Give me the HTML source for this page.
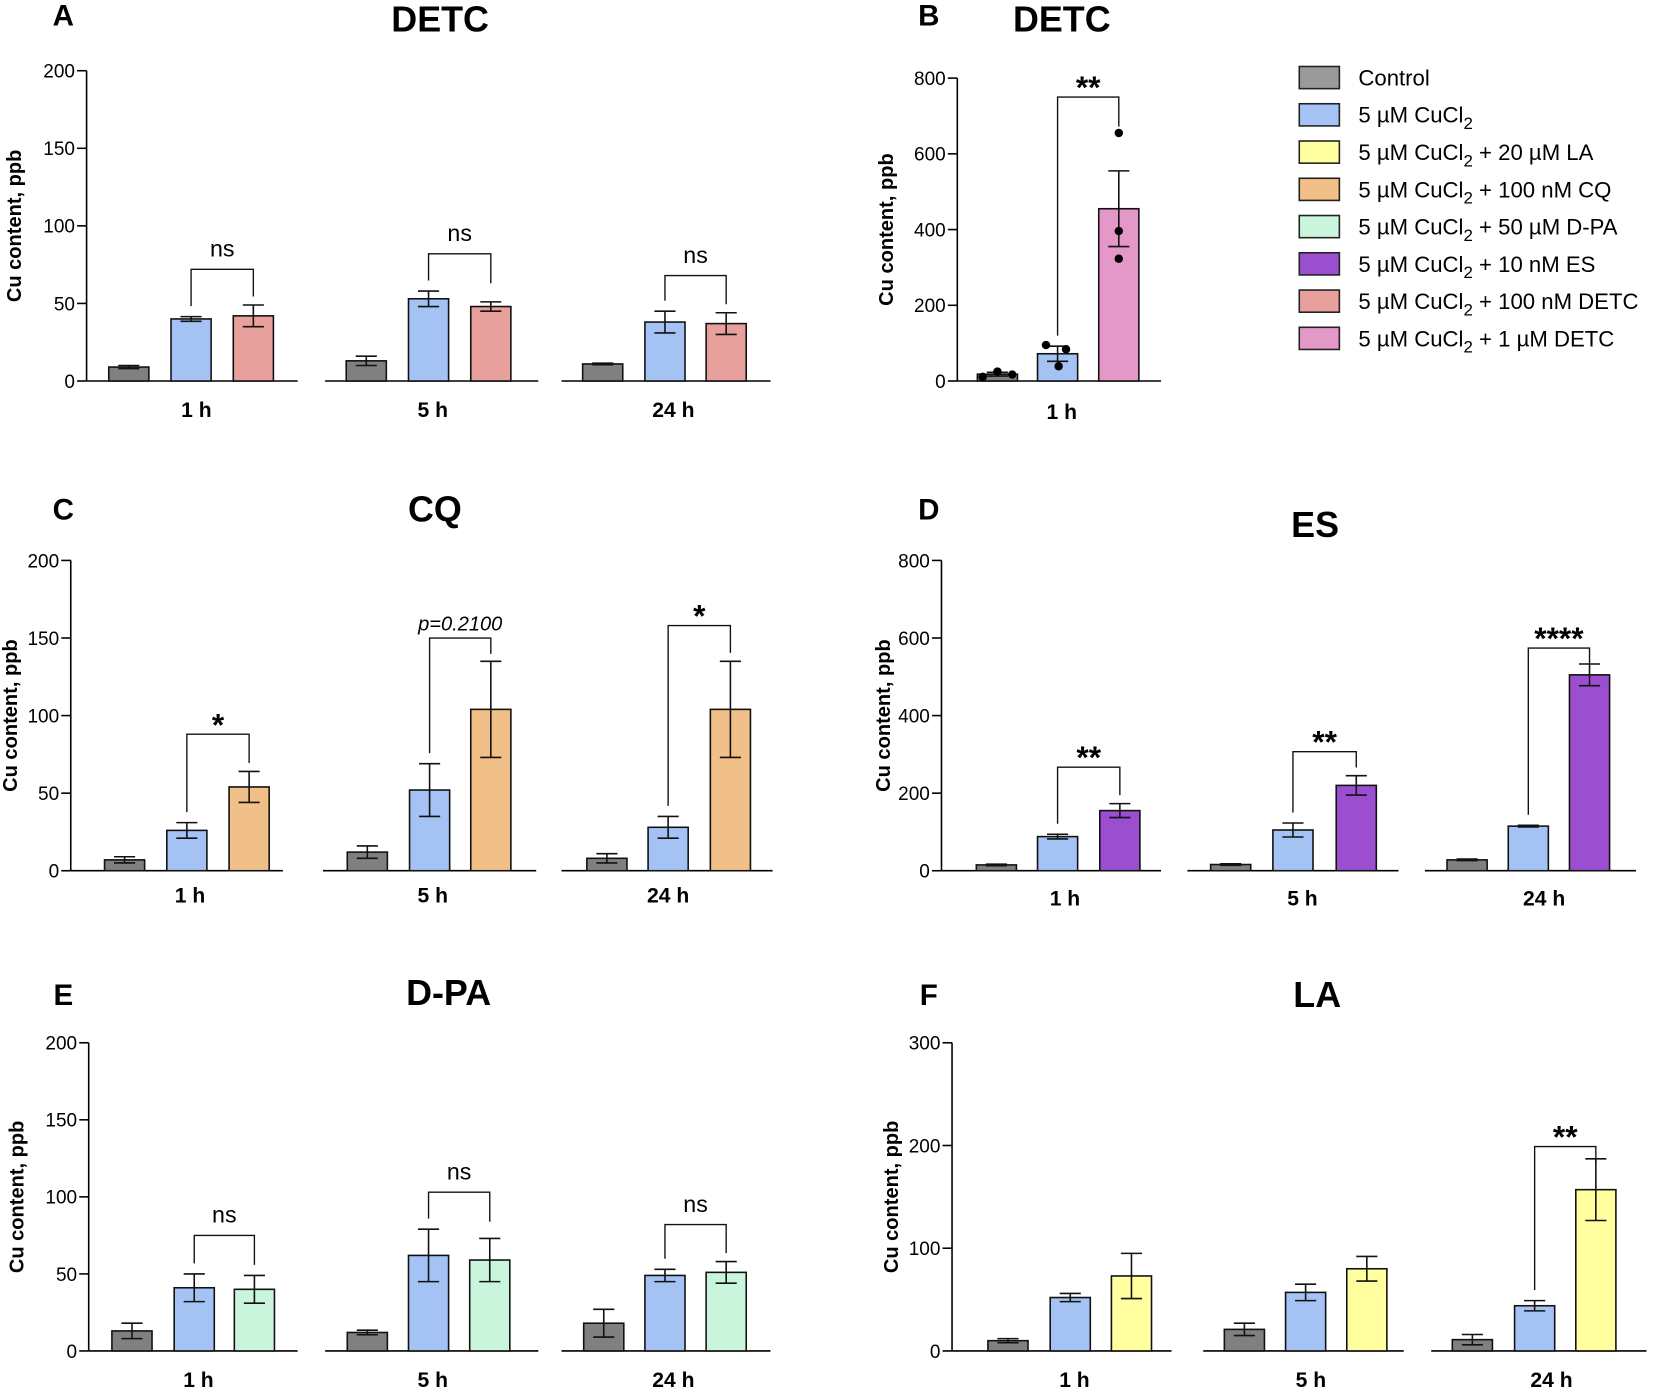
<!DOCTYPE html>
<html><head><meta charset="utf-8"><style>
html,body{margin:0;padding:0;background:#fff;}
svg{display:block;font-family:"Liberation Sans",Arial,sans-serif;}
</style></head><body>
<svg id="fig" width="1655" height="1390" viewBox="0 0 1568 1317" xmlns="http://www.w3.org/2000/svg"></svg>
<script>
// ---- Data arrays ----
const timeLabels = ["1 h","5 h","24 h"];
const colorControl = "#808080", colorCu = "#a4c2f4";
// Panel A (DETC 100 nM)
const aValues = [[9,40,42],[13,53,48],[11,38,37]];
const aErrors = [[1,1.5,7],[3,5,3],[0.5,7,7]];
const aSig = ["ns","ns","ns"];
const aSigLevel = [72,82,68];
const aTicks = [0,50,100,150,200];
// Panel B (DETC 1 uM)
const bValues = [18,72,455];
const bErrors = [5,20,100];
const bDots = [[11,25,17],[95,84,39],[655,396,323]];
const bSigLevel = [750];
const bTicks = [0,200,400,600,800];
// Panel C (CQ)
const cValues = [[7,26,54],[12,52,104],[8,28,104]];
const cErrors = [[2,5,10],[4,17,31],[3,7,31]];
const cSig = ["*","p=0.2100","*"];
const cSigLevel = [88,150,158];
const cTicks = [0,50,100,150,200];
// Panel D (ES)
const dValues = [[15,88,155],[16,105,220],[28,115,505]];
const dErrors = [[2,6,18],[2,18,25],[2,2,28]];
const dSig = ["**","**","****"];
const dSigLevel = [267,307,574];
const dTicks = [0,200,400,600,800];
// Panel E (D-PA)
const eValues = [[13,41,40],[12,62,59],[18,49,51]];
const eErrors = [[5,9,9],[1.5,17,14],[9,4,7]];
const eSig = ["ns","ns","ns"];
const eSigLevel = [75,103,82];
const eTicks = [0,50,100,150,200];
// Panel F (LA)
const fValues = [[10,52,73],[21,57,80],[11,44,157]];
const fErrors = [[2,4,22],[6,8,12],[5,5,30]];
const fSig = [null,null,"**"];
const fSigLevel = [0,0,199];
const fTicks = [0,100,200,300];
// Legend
const legendLabels = [["Control",""],["5 µM CuCl","2",""],["5 µM CuCl","2"," + 20 µM LA"],["5 µM CuCl","2"," + 100 nM CQ"],["5 µM CuCl","2"," + 50 µM D-PA"],["5 µM CuCl","2"," + 10 nM ES"],["5 µM CuCl","2"," + 100 nM DETC"],["5 µM CuCl","2"," + 1 µM DETC"]];
const legendColors = ["#9a9a9a","#a4c2f4","#ffffa0","#f0c088","#c8f5dc","#9b4fd0","#e8a09c","#e398c8"];

const NS="http://www.w3.org/2000/svg";
const svg=document.getElementById('fig');
function el(tag,attrs,parent){const e=document.createElementNS(NS,tag);for(const k in attrs)e.setAttribute(k,attrs[k]);(parent||svg).appendChild(e);return e;}
function txt(s,x,y,size,weight,anchor,parent,extra){const t=el('text',Object.assign({x:x,y:y,'font-size':size,'font-weight':weight||'normal','text-anchor':anchor||'middle',fill:'#000'},extra||{}),parent);t.textContent=s;return t;}

function panel(cfg){
  const g=el('g',{});
  
  
  const y=v=>cfg.y0-(v/cfg.ymax)*(cfg.y0-cfg.ytop);
  const ax=el('g',{},g);
  
  
  el('line',{x1:cfg.ax,y1:cfg.y0,x2:cfg.ax,y2:cfg.ytop,stroke:'#000','stroke-width':1.5},ax);
  cfg.ticks.forEach(t=>{
    el('line',{x1:cfg.ax-9,y1:y(t),x2:cfg.ax,y2:y(t),stroke:'#000','stroke-width':1.5},ax);
    const tl=txt(String(t),cfg.ax-11,y(t)+6.5,18,'normal','end',ax);
    
    
  });
  const yt=txt('Cu content, ppb',0,0,19,'bold','middle',g,{transform:`translate(${cfg.titleAxX},${(cfg.y0+cfg.ytop)/2}) rotate(-90)`});
  
  
  cfg.groups.forEach((gr,gi)=>{
    el('line',{x1:gr.seg[0],y1:cfg.y0,x2:gr.seg[1],y2:cfg.y0,stroke:'#000','stroke-width':1.5},g);
    gr.values.forEach((v,bi)=>{
      const cx=gr.cx[bi],w=38;
      const b=el('rect',{x:cx-w/2,y:y(v),width:w,height:cfg.y0-y(v),fill:gr.colors[bi],stroke:'#111','stroke-width':1.5},g);
      
      
      const e=gr.errors[bi];
      if(e>0){
        el('line',{x1:cx,y1:y(v+e),x2:cx,y2:y(v-e),stroke:'#111','stroke-width':1.5},g);
        el('line',{x1:cx-10,y1:y(v+e),x2:cx+10,y2:y(v+e),stroke:'#111','stroke-width':1.5},g);
        el('line',{x1:cx-10,y1:y(v-e),x2:cx+10,y2:y(v-e),stroke:'#111','stroke-width':1.5},g);
      }
      if(gr.dots){gr.dots[bi].forEach((d,di)=>{
        const c=el('circle',{cx:cx+gr.jitter[bi][di],cy:y(d),r:4,fill:'#000'},g);
        
        
      });}
    });
    const xl=txt(timeLabels[gi],gr.labelX,cfg.labelY,20,'bold','middle',g);
    
    
    if(gr.sig){
      const x1=gr.cx[1],x2=gr.cx[2];
      const top1=y(gr.values[1]+gr.errors[1]),top2=y(gr.values[2]+gr.errors[2]);
      const lvl=y(gr.level);
      const r2=Math.min(top2-8,lvl+28);
      const l1=Math.min(top1-10,Math.max(lvl+28,top1-10));
      const bk=el('path',{d:`M${x1},${l1} V${lvl} H${x2} V${Math.max(r2,lvl+15)}`,fill:'none',stroke:'#111','stroke-width':1.3},g);
      
      
      const italic=gr.sig.startsWith('p=');
      const star=gr.sig.includes('*');
      const st=txt(gr.sig,(x1+x2)/2,star?lvl+1:lvl-12,star?30:22,star?'bold':'normal','middle',g,italic?{'font-style':'italic','font-size':19,y:lvl-7}:{});
      
      
    }
  });
  const pl=txt(cfg.letter,cfg.letterX,cfg.letterY,28,'bold','middle',g);
  
  
  const tt=txt(cfg.title,cfg.titleX,cfg.titleY,34,'bold','middle',g);
  
  
}

function mk(values,errors,sig,levels,c3,cxs,segs,labelXs){
  return values.map((v,i)=>({values:v,errors:errors[i],sig:sig?sig[i]:null,level:levels[i],colors:[colorControl,colorCu,c3],cx:cxs[i],seg:segs[i],labelX:labelXs[i]}));
}

panel({name:'panel-a',letter:'A',letterX:60,letterY:24,title:'DETC',titleX:417,titleY:30,ax:82,titleAxX:20,y0:361,ytop:67,ymax:200,ticks:aTicks,labelY:395,
 groups:mk(aValues,aErrors,aSig,aSigLevel,'#e8a09c',[[122,181,240],[347,406,465],[571,630,688]],[[82,282],[308,510],[532,730]],[186,410,638])});
panel({name:'panel-b',letter:'B',letterX:880,letterY:24,title:'DETC',titleX:1006,titleY:30,ax:907,titleAxX:846,y0:361,ytop:74,ymax:800,ticks:bTicks,labelY:397,
 groups:[{values:bValues,errors:bErrors,sig:'**',level:bSigLevel[0],colors:[colorControl,colorCu,'#e398c8'],cx:[945,1002,1060],seg:[907,1100],labelX:1006,dots:bDots,jitter:[[-14,0,14],[-11,8,1],[0,0,0]]}]});
panel({name:'panel-c',letter:'C',letterX:60,letterY:492,title:'CQ',titleX:412,titleY:494,ax:67,titleAxX:16,y0:825,ytop:531,ymax:200,ticks:cTicks,labelY:855,
 groups:mk(cValues,cErrors,cSig,cSigLevel,'#f0c088',[[118,177,236],[348,407,465],[575,633,692]],[[67,268],[306,508],[532,732]],[180,410,633])});
panel({name:'panel-d',letter:'D',letterX:880,letterY:492,title:'ES',titleX:1246,titleY:509,ax:892,titleAxX:843,y0:825,ytop:531,ymax:800,ticks:dTicks,labelY:858,
 groups:mk(dValues,dErrors,dSig,dSigLevel,'#9b4fd0',[[944,1002,1061],[1166,1225,1285],[1390,1448,1506]],[[892,1100],[1125,1325],[1350,1550]],[1009,1234,1463])});
panel({name:'panel-e',letter:'E',letterX:60,letterY:952,title:'D-PA',titleX:425,titleY:952,ax:84,titleAxX:22,y0:1280,ytop:988,ymax:200,ticks:eTicks,labelY:1314,
 groups:mk(eValues,eErrors,eSig,eSigLevel,'#c8f5dc',[[125,184,241],[348,406,464],[572,630,688]],[[84,282],[308,510],[532,730]],[188,410,638])});
panel({name:'panel-f',letter:'F',letterX:880,letterY:952,title:'LA',titleX:1248,titleY:954,ax:902,titleAxX:851,y0:1280,ytop:988,ymax:300,ticks:fTicks,labelY:1314,
 groups:mk(fValues,fErrors,fSig,fSigLevel,'#ffffa0',[[955,1014,1072],[1179,1237,1295],[1395,1454,1512]],[[902,1110],[1140,1330],[1356,1560]],[1018,1242,1470])});

const lg=el('g',{});


legendLabels.forEach((lab,i)=>{
  const cy=73+i*35.3;
  const ent=el('g',{},lg);
  
  
  el('rect',{x:1231,y:cy-10,width:38,height:21,fill:legendColors[i],stroke:'#222','stroke-width':1.5},ent);
  const t=el('text',{x:1287,y:cy+8,'font-size':21,fill:'#000'},ent);
  const s1=el('tspan',{},t);s1.textContent=lab[0];
  if(lab.length>2){
    const s2=el('tspan',{dy:6,'font-size':16},t);s2.textContent=lab[1];
    const s3=el('tspan',{dy:-6},t);s3.textContent=lab[2];
  }
});
</script>
</body></html>
